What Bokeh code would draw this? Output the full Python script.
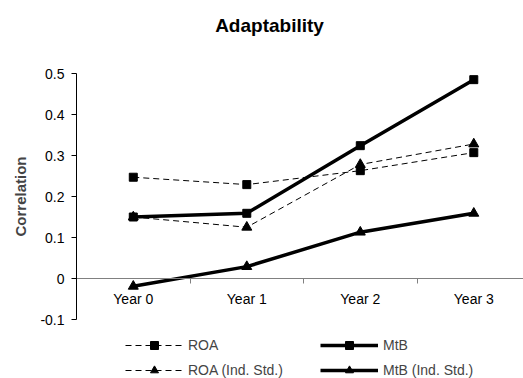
from bokeh.plotting import figure
from bokeh.models import (Range1d, FixedTicker, LinearAxis, Legend, LegendItem,
                          Label, NumeralTickFormatter)
from bokeh.embed import file_html
from bokeh.resources import INLINE

# ---- data ----
years = ["Year 0", "Year 1", "Year 2", "Year 3"]
x_pos = [0, 1, 2, 3]
roa = [0.247, 0.229, 0.263, 0.307]
roa_ind = [0.150, 0.125, 0.278, 0.328]
mtb = [0.150, 0.159, 0.324, 0.485]
mtb_ind = [-0.019, 0.029, 0.113, 0.159]
y_ticks = [-0.1, 0, 0.1, 0.2, 0.3, 0.4, 0.5]
x_div_ticks = [0.5, 1.5, 2.5]

FONT = "Liberation Sans"
W, H = 523, 378
X_END = 3.438
X_START = X_END - W / 113.5
Y_END = 278 / 410
Y_START = -(H - 278) / 410

p = figure(width=W, height=H, output_backend="svg", toolbar_location=None, title=None,
           x_range=Range1d(X_START, X_END), y_range=Range1d(Y_START, Y_END),
           min_border_left=0, min_border_right=0, min_border_top=0,
           min_border_bottom=0, x_axis_type=None, y_axis_type=None)
p.outline_line_color = None
p.background_fill_color = "white"
p.border_fill_color = "white"

yax = LinearAxis(ticker=FixedTicker(ticks=y_ticks), fixed_location=-0.5,
                 bounds=(y_ticks[0], y_ticks[-1]),
                 formatter=NumeralTickFormatter(format="0.[0]"),
                 axis_label="Correlation", axis_label_text_font=FONT,
                 axis_label_text_font_style="bold", axis_label_text_font_size="15px",
                 major_label_text_font=FONT, major_label_text_font_size="14px",
                 major_label_text_color="black",
                 major_tick_out=5, major_tick_in=0, minor_tick_out=0, minor_tick_in=0,
                 axis_line_color="black", major_tick_line_color="black",
                 major_label_standoff=7, axis_label_standoff=8)
p.add_layout(yax, "left")

xtick_ax = LinearAxis(ticker=FixedTicker(ticks=x_div_ticks), fixed_location=0,
                      bounds=(-0.5, X_END),
                      major_label_text_color=None, major_tick_out=5, major_tick_in=0,
                      minor_tick_out=0, minor_tick_in=0,
                      axis_line_color="#808080", major_tick_line_color="#808080")
p.add_layout(xtick_ax, "below")

xlab_ax = LinearAxis(ticker=FixedTicker(ticks=x_pos), fixed_location=0,
                     major_label_overrides=dict(zip(x_pos, years)),
                     major_label_text_font=FONT, major_label_text_font_size="14px",
                     major_label_text_color="black",
                     major_tick_out=0, major_tick_in=0, minor_tick_out=0, minor_tick_in=0,
                     axis_line_color=None, major_label_standoff=12)
p.add_layout(xlab_ax, "below")

DASH = "6 4"
l1 = p.line(x_pos, roa, line_color="black", line_width=1, line_dash=DASH)
l2 = p.line(x_pos, roa_ind, line_color="black", line_width=1, line_dash=DASH)
l3 = p.line(x_pos, mtb, line_color="black", line_width=3.5)
l4 = p.line(x_pos, mtb_ind, line_color="black", line_width=3.5)
m1 = p.scatter(x_pos, roa, marker="square", size=8, color="black")
m2 = p.scatter(x_pos, roa_ind, marker="triangle", size=10, color="black")
m3 = p.scatter(x_pos, mtb, marker="square", size=8, color="black")
m4 = p.scatter(x_pos, mtb_ind, marker="triangle", size=10, color="black")

def make_legend(items, loc):
    return Legend(items=items, location=loc, glyph_width=58, glyph_height=20,
                  label_height=20, label_standoff=5, spacing=5, padding=0, margin=0,
                  border_line_color=None, background_fill_alpha=0,
                  label_text_font=FONT, label_text_font_size="14px")

leg1 = make_legend([LegendItem(label="ROA", renderers=[l1, m1]),
                    LegendItem(label="ROA (Ind. Std.)", renderers=[l2, m2])], (125, -2))
leg2 = make_legend([LegendItem(label="MtB", renderers=[l3, m3]),
                    LegendItem(label="MtB (Ind. Std.)", renderers=[l4, m4])], (320, -2))
p.add_layout(leg1)
p.add_layout(leg2)

title = Label(x=269, y=H - 25, x_units="screen", y_units="screen", text="Adaptability",
              text_align="center", text_baseline="alphabetic", text_font=FONT,
              text_font_style="bold", text_font_size="19px", text_color="black")
p.add_layout(title)

open("out.html", "w").write(file_html(p, INLINE))
